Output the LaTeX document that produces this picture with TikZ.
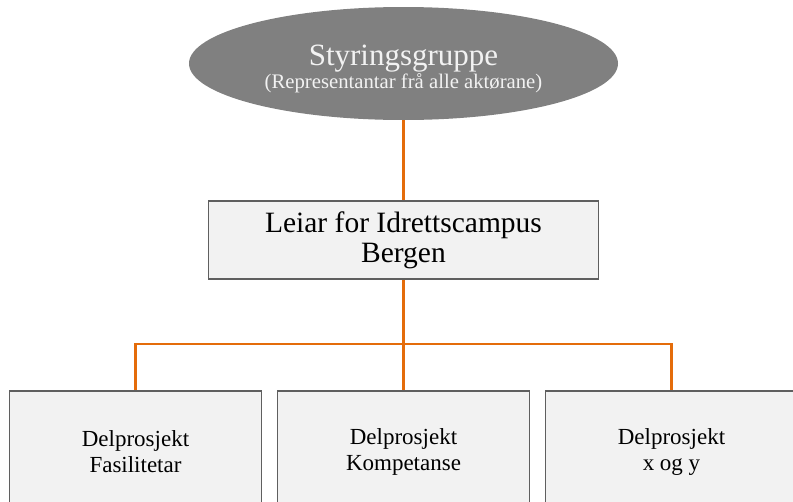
\documentclass[tikz,border=0pt]{standalone}
\usepackage{fontspec}
\setmainfont{Liberation Serif}
\usepackage{tikz}
\usetikzlibrary{shapes.geometric}

\definecolor{ellipsegra}{HTML}{808080}
\definecolor{linjeoransje}{HTML}{E46C0A}
\definecolor{boksfyll}{HTML}{F2F2F2}
\definecolor{rammegra}{HTML}{5F5F5F}

\tikzset{
 gruppe/.style={ellipse, fill=ellipsegra, text=boksfyll, minimum width=429pt, minimum height=113pt, inner sep=0pt, align=center, font=\fontsize{20.7}{23}\selectfont},
 leiarboks/.style={rectangle, draw=rammegra, line width=1.5pt, fill=boksfyll, minimum width=390pt, minimum height=78pt, align=center, font=\fontsize{29.5}{30}\selectfont},
 delboks/.style={rectangle, draw=rammegra, line width=1.5pt, fill=boksfyll, minimum width=252pt, minimum height=122pt, align=center, font=\fontsize{23}{26}\selectfont}
}

\begin{document}
\begin{tikzpicture}[x=1pt, y=1pt, edge from parent/.style={draw=linjeoransje, line width=2.5pt}]
\useasboundingbox (0,0) rectangle (793,-501);
\clip (0,0) rectangle (793,-501);
 \node[gruppe] (styring) at (403.5,-63.5) {\rule{0pt}{32pt}{\fontsize{31}{32}\selectfont Styringsgruppe}\\(Representantar frå alle aktørane)} [level distance=176.5pt]
child {node[leiarboks] (leiar) {Leiar for Idrettscampus\\Bergen} [level distance=212pt, sibling distance=268pt,
 edge from parent path={(\tikzparentnode.south) -- ++(0,-64pt) -| (\tikzchildnode.north)}]
child {node[delboks] (fasilitetar) {Delprosjekt\\Fasilitetar}}
child {node[delboks] (kompetanse) {Delprosjekt\\Kompetanse}}
child {node[delboks] (xogy) {Delprosjekt\\x og y}}
};
\end{tikzpicture}
\end{document}
